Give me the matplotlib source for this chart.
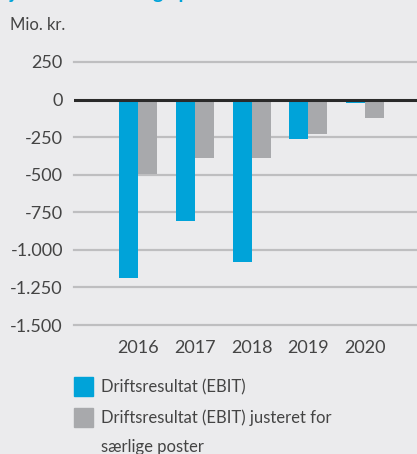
import matplotlib.pyplot as plt
from matplotlib.patches import Rectangle
from matplotlib.ticker import FuncFormatter

years = ["2016", "2017", "2018", "2019", "2020"]
ebit = [-1190, -808, -1080, -262, -22]
ebit_adj = [-495, -388, -388, -229, -122]
labels = ["Driftsresultat (EBIT)", "Driftsresultat (EBIT) justeret for", "særlige poster"]

blue = "#00A3D9"
grey = "#A8A9AC"
bg = "#EBEBED"
txt = "#444444"

plt.rcParams['font.family'] = ['Lato', 'DejaVu Sans']

fig = plt.figure(figsize=(4.17, 4.54), dpi=100, facecolor=bg)
ax = fig.add_axes([74/417, 129/454, 343/417, 263/454], facecolor=bg)

x = range(len(years))
w = 0.335
ax.bar([i - w/2 for i in x], ebit, w, color=blue, zorder=2)
ax.bar([i + w/2 for i in x], ebit_adj, w, color=grey, zorder=2)

ax.set_ylim(-1500, 250)
ax.set_xlim(-1.128, 4.916)
ax.set_yticks(range(-1500, 251, 250))
ax.yaxis.set_major_formatter(FuncFormatter(lambda v, p: f"{int(v):,}".replace(",", ".")))
ax.set_xticks(list(x))
ax.set_xticklabels(years)

for v in range(-1500, 251, 250):
    if v != 0:
        ax.axhline(v, color="#BEBEC0", lw=1.6, zorder=1, clip_on=False)
ax.axhline(0, color="#2A2A2A", lw=2.2, zorder=3)

for s in ax.spines.values():
    s.set_visible(False)
ax.tick_params(length=0, colors=txt, labelsize=13)
ax.tick_params(axis='y', pad=8)
ax.tick_params(axis='x', pad=11)

fig.text(10/417, 1 + 1/454, "justeret for særlige poster", color=blue, fontsize=14,
         fontweight='bold', va='baseline')
fig.text(10/417, 1 - 25/454, "Mio. kr.", color=txt, fontsize=12, va='center')

# legend
for i, c in enumerate([blue, grey]):
    top = 377 + i * 31
    fig.patches.append(Rectangle((74/417, 1 - (top + 19)/454), 19/417, 19/454,
                                 transform=fig.transFigure, color=c))
for lab, yc in zip(labels, [387, 418, 447]):
    fig.text(101/417, 1 - yc/454, lab, color=txt, fontsize=12, va='center')

fig.savefig("out.png", dpi=100, facecolor=bg)
